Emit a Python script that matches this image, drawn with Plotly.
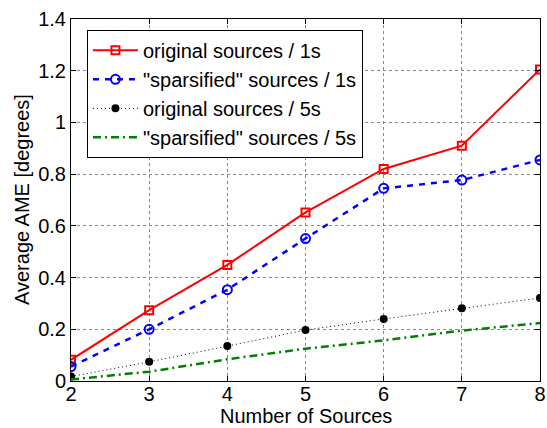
import plotly.graph_objects as go

sources = [2, 3, 4, 5, 6, 7, 8]
orig_1s = [0.082, 0.274, 0.449, 0.652, 0.82, 0.91, 1.205]
spars_1s = [0.056, 0.200, 0.353, 0.551, 0.745, 0.777, 0.855]
orig_5s = [0.017, 0.074, 0.135, 0.197, 0.240, 0.281, 0.321]
spars_5s = [0.006, 0.036, 0.084, 0.125, 0.157, 0.195, 0.224]

names = ["original sources / 1s", "\"sparsified\" sources / 1s",
         "original sources / 5s", "\"sparsified\" sources / 5s"]
x_title = "Number of Sources"
y_title = "Average AME [degrees]"

FONT = "Liberation Sans, Arial, Helvetica, sans-serif"
FS = 20

fig = go.Figure()
fig.add_trace(go.Scatter(x=sources, y=orig_1s, name=names[0], mode="lines+markers",
                         line=dict(color="#ff0000", width=2),
                         marker=dict(symbol="square-open", size=8, color="#ff0000", line=dict(width=2))))
fig.add_trace(go.Scatter(x=sources, y=spars_1s, name=names[1], mode="lines+markers",
                         line=dict(color="#0000ff", width=2.5, dash="6px,6px"),
                         marker=dict(symbol="circle-open", size=9, color="#0000ff", line=dict(width=2))))
fig.add_trace(go.Scatter(x=sources, y=orig_5s, name=names[2], mode="lines+markers",
                         line=dict(color="#000000", width=1, dash="1px,3px"),
                         marker=dict(symbol="circle", size=8, color="#000000")))
fig.add_trace(go.Scatter(x=sources, y=spars_5s, name=names[3], mode="lines",
                         line=dict(color="#008000", width=2.5, dash="8px,4px,2px,4px")))

axis_common = dict(showline=True, linecolor="black", linewidth=1, mirror="allticks",
                   ticks="inside", ticklen=5, tickcolor="black",
                   showgrid=True, gridcolor="#888888", gridwidth=1, griddash="dot",
                   zeroline=False, automargin=False,
                   tickfont=dict(size=FS, color="black", family=FONT))

fig.update_xaxes(range=[2, 8], tickvals=sources, ticktext=[str(s) for s in sources],
                 ticklabelstandoff=-5, **axis_common)
fig.update_yaxes(range=[0, 1.4], tickvals=[0, 0.2, 0.4, 0.6, 0.8, 1.0, 1.2, 1.4],
                 ticktext=["0", "0.2", "0.4", "0.6", "0.8", "1", "1.2", "1.4"],
                 **axis_common)

fig.add_annotation(text=x_title, xref="paper", yref="paper", x=0.5, y=-0.097,
                   xanchor="center", yanchor="middle", showarrow=False,
                   font=dict(size=FS, family=FONT, color="black"))
fig.add_annotation(text=y_title, xref="paper", yref="paper", x=0, y=0.5,
                   xshift=-49, xanchor="center", yanchor="middle", textangle=-90,
                   showarrow=False, font=dict(size=FS, family=FONT, color="black"))

fig.update_layout(
    width=547, height=428,
    margin=dict(l=71, r=7, t=19, b=47),
    paper_bgcolor="white", plot_bgcolor="white",
    font=dict(family=FONT, size=FS, color="black"),
    showlegend=True,
    legend=dict(x=0.034, y=0.97, xanchor="left", yanchor="top",
                bordercolor="black", borderwidth=1, bgcolor="white",
                font=dict(size=FS, family=FONT, color="black"),
                tracegroupgap=0, itemwidth=45),
)

fig.write_html("out.html", config={"displayModeBar": False},
               post_script="document.body.style.margin='0';document.body.style.overflow='hidden';")
